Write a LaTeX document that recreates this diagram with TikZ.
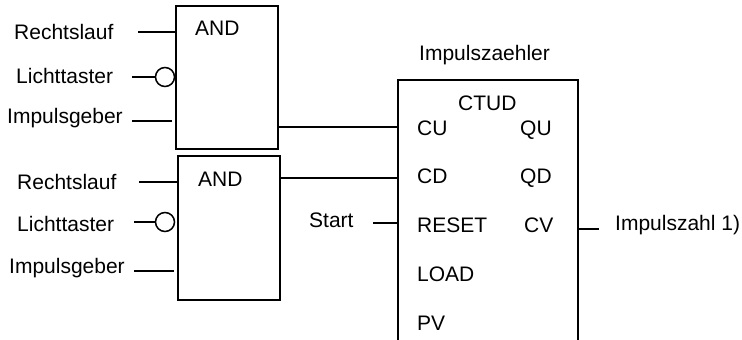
\documentclass[tikz,border=0pt]{standalone}
\usepackage{fontspec}
\setmainfont{Liberation Sans}
\begin{document}
\begin{tikzpicture}[x=1pt,y=-1pt,
  lbl/.style={anchor=base west, inner sep=0pt, font=\fontsize{21}{24}\selectfont},
  blk/.style={draw, line width=1.8pt, rectangle, anchor=north west, inner sep=0pt},
  wire/.style={line width=1.5pt},
  neg/.style={draw, circle, inner sep=0pt, minimum size=19pt, line width=1.5pt}]
\useasboundingbox (0,0) rectangle (742,340);
% blocks
\node[blk, minimum width=102pt, minimum height=143pt] (and1) at (175,5) {};
\node[blk, minimum width=102pt, minimum height=144pt] (and2) at (177,155) {};
\node[blk, minimum width=180pt, minimum height=290pt] (ctud) at (397,79) {};
% block texts
\node[lbl] (t-and1) at (195,35) {AND};
\node[lbl] (t-and2) at (198,186) {AND};
\node[lbl] (t-title) at (419,60) {Impulszaehler};
\node[lbl] (t-ctud) at (458,110) {CTUD};
\node[lbl] (t-cu) at (417,135) {CU};
\node[lbl] (t-qu) at (520,135) {QU};
\node[lbl] (t-cd) at (417,183) {CD};
\node[lbl] (t-qd) at (520,183) {QD};
\node[lbl] (t-reset) at (417,232) {RESET};
\node[lbl] (t-cv) at (524,232) {CV};
\node[lbl] (t-load) at (417,281) {LOAD};
\node[lbl] (t-pv) at (417,330) {PV};
% input labels
\node[lbl] (t-r1) at (14,39) {Rechtslauf};
\node[lbl] (t-l1) at (16,83) {Lichttaster};
\node[lbl] (t-i1) at (7,123) {Impulsgeber};
\node[lbl] (t-r2) at (17,189) {Rechtslauf};
\node[lbl] (t-l2) at (17,231) {Lichttaster};
\node[lbl] (t-i2) at (9,273) {Impulsgeber};
\node[lbl] (t-start) at (309,227) {Start};
\node[lbl] (t-out) at (615,230) {Impulszahl 1)};
% negation circles
\node[neg] (n1) at (165,77) {};
\node[neg] (n2) at (165,222) {};
% wire end points
\coordinate (r1) at (138,32);
\coordinate (l1) at (132,77);
\coordinate (i1) at (132,121);
\coordinate (i1e) at (172,121);
\coordinate (r2) at (139,182);
\coordinate (l2) at (134,222);
\coordinate (i2) at (134,271);
\coordinate (i2e) at (174,271);
\coordinate (o1) at (277,127);
\coordinate (o2) at (279,178);
\coordinate (st) at (373,223);
\coordinate (cv) at (577,229);
\coordinate (cve) at (599,229);
% wires
\draw[wire] (r1) -- (r1 -| and1.west);
\draw[wire] (l1) -- (n1.west);
\draw[wire] (i1) -- (i1e);
\draw[wire] (r2) -- (r2 -| and2.west);
\draw[wire] (l2) -- (n2.west);
\draw[wire] (i2) -- (i2e);
\draw[wire] (o1) -- (o1 -| ctud.west);
\draw[wire] (o2) -- (o2 -| ctud.west);
\draw[wire] (st) -- (st -| ctud.west);
\draw[wire] (cv) -- (cve);
\end{tikzpicture}
\end{document}
